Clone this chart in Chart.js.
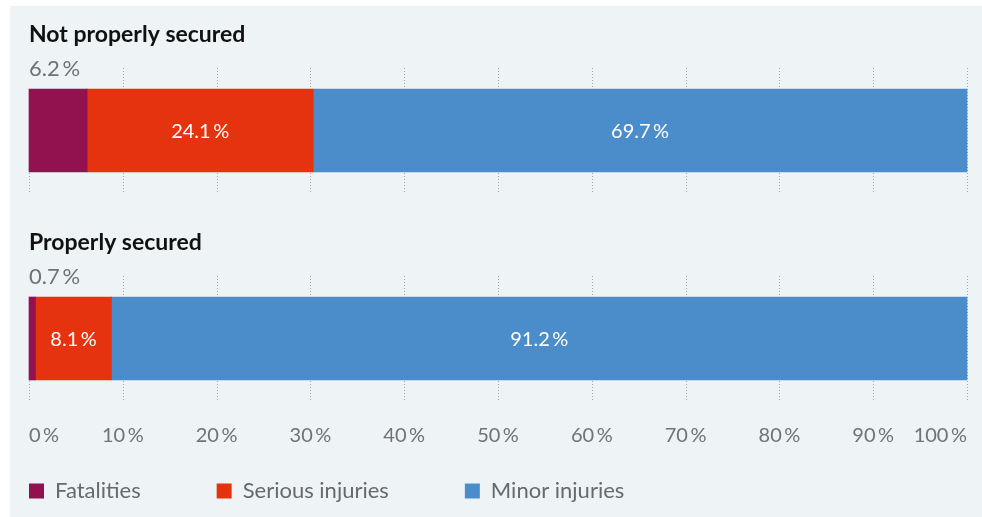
<!DOCTYPE html>
<html>
<head>
<meta charset="utf-8">
<script src="https://cdn.jsdelivr.net/npm/chart.js@4.4.0/dist/chart.umd.min.js"></script>
<style>
    html, body { margin: 0; padding: 0; background: #fff; }
    #wrap { position: relative; width: 982px; height: 517px; overflow: hidden; }
    #panel { position: absolute; left: 10px; top: 6px; right: 0; bottom: 0; background: #eef3f6; }
    #chart { position: absolute; left: 0; top: 0; }
</style>
</head>
<body>
<div id="wrap">
    <div id="panel"></div>
    <canvas id="chart" width="982" height="517"></canvas>
</div>
<script>
// data
var groups = ['Not properly secured', 'Properly secured'];
var seriesNames = ['Fatalities', 'Serious injuries', 'Minor injuries'];
var fatalities = [6.2, 0.7];
var seriousInjuries = [24.1, 8.1];
var minorInjuries = [69.7, 91.2];
var seriesColors = ['#92114f', '#e5330f', '#4b8dcb'];

var FONT = 'Lato, "Open Sans", sans-serif';

function pct(v) {
    return v + '\u2009%';
}

// titles, value labels and the short dotted grid around each bar
var barExtras = {
    id: 'barExtras',
    beforeDatasetsDraw: function (chart) {
        var ctx = chart.ctx;
        var xs = chart.scales.x;
        var bars = chart.getDatasetMeta(0).data;
        ctx.save();
        ctx.strokeStyle = '#a3a8ad';
        ctx.lineWidth = 1;
        ctx.setLineDash([1, 2]);
        bars.forEach(function (bar) {
            var top = bar.y - bar.height / 2;
            var bottom = bar.y + bar.height / 2;
            xs.ticks.forEach(function (t, i) {
                var px = Math.round(xs.getPixelForValue(t.value)) + 0.5;
                ctx.beginPath();
                ctx.moveTo(px, i === 0 ? top : top - 21);
                ctx.lineTo(px, bottom + 21);
                ctx.stroke();
            });
        });
        ctx.restore();
    },
    afterDatasetsDraw: function (chart) {
        var ctx = chart.ctx;
        var left = chart.chartArea.left;
        ctx.save();
        ctx.textBaseline = 'alphabetic';

        chart.data.datasets.forEach(function (ds, di) {
            chart.getDatasetMeta(di).data.forEach(function (bar, i) {
                var top = bar.y - bar.height / 2;
                var text = pct(ds.data[i]);
                if (di === 0) {
                    // group title + small share written above the bar
                    ctx.textAlign = 'left';
                    ctx.fillStyle = '#111';
                    ctx.font = 'bold 23px ' + FONT;
                    ctx.fillText(chart.data.labels[i], left, top - 47);
                    ctx.fillStyle = '#707274';
                    ctx.font = '22px ' + FONT;
                    ctx.fillText(text, left, top - 13);
                } else {
                    ctx.textAlign = 'center';
                    ctx.textBaseline = 'middle';
                    ctx.fillStyle = '#fff';
                    ctx.font = '20px ' + FONT;
                    ctx.fillText(text, (bar.x + bar.base) / 2, bar.y + 1);
                    ctx.textBaseline = 'alphabetic';
                }
            });
        });
        ctx.restore();
    }
};

var ctx = document.getElementById('chart').getContext('2d');

var myChart = new Chart(ctx, {
    type: 'bar',
    data: {
        labels: groups,
        datasets: [
            { label: seriesNames[0], data: fatalities, backgroundColor: seriesColors[0] },
            { label: seriesNames[1], data: seriousInjuries, backgroundColor: seriesColors[1] },
            { label: seriesNames[2], data: minorInjuries, backgroundColor: seriesColors[2] }
        ]
    },
    options: {
        responsive: false,
        animation: false,
        indexAxis: 'y',
        datasets: {
            bar: { barThickness: 83, borderWidth: 0, clip: false }
        },
        layout: {
            padding: { top: 130.5, left: -47, right: 15, bottom: 5 }
        },
        scales: {
            x: {
                stacked: true,
                min: 0,
                max: 100,
                grid: { display: false, drawTicks: false },
                border: { display: false },
                ticks: {
                    stepSize: 10,
                    align: 'inner',
                    mirror: true,
                    padding: -109,
                    maxRotation: 0,
                    minRotation: 0,
                    autoSkip: false,
                    color: '#707274',
                    font: { family: FONT, size: 20 },
                    callback: function (v) { return pct(v); }
                },
                afterFit: function (s) {
                    s.height = 65.5;
                    s.paddingLeft = 0;
                    s.paddingRight = 0;
                }
            },
            y: {
                stacked: true,
                offset: false,
                grid: { display: false },
                border: { display: false },
                ticks: { display: false },
                afterFit: function (s) { s.width = 76; }
            }
        },
        plugins: {
            tooltip: { enabled: false },
            legend: {
                position: 'bottom',
                align: 'start',
                labels: {
                    boxWidth: 15,
                    boxHeight: 15,
                    padding: 76,
                    color: '#68696b',
                    font: { family: FONT, size: 22 }
                }
            }
        }
    },
    plugins: [barExtras]
});
</script>
</body>
</html>
